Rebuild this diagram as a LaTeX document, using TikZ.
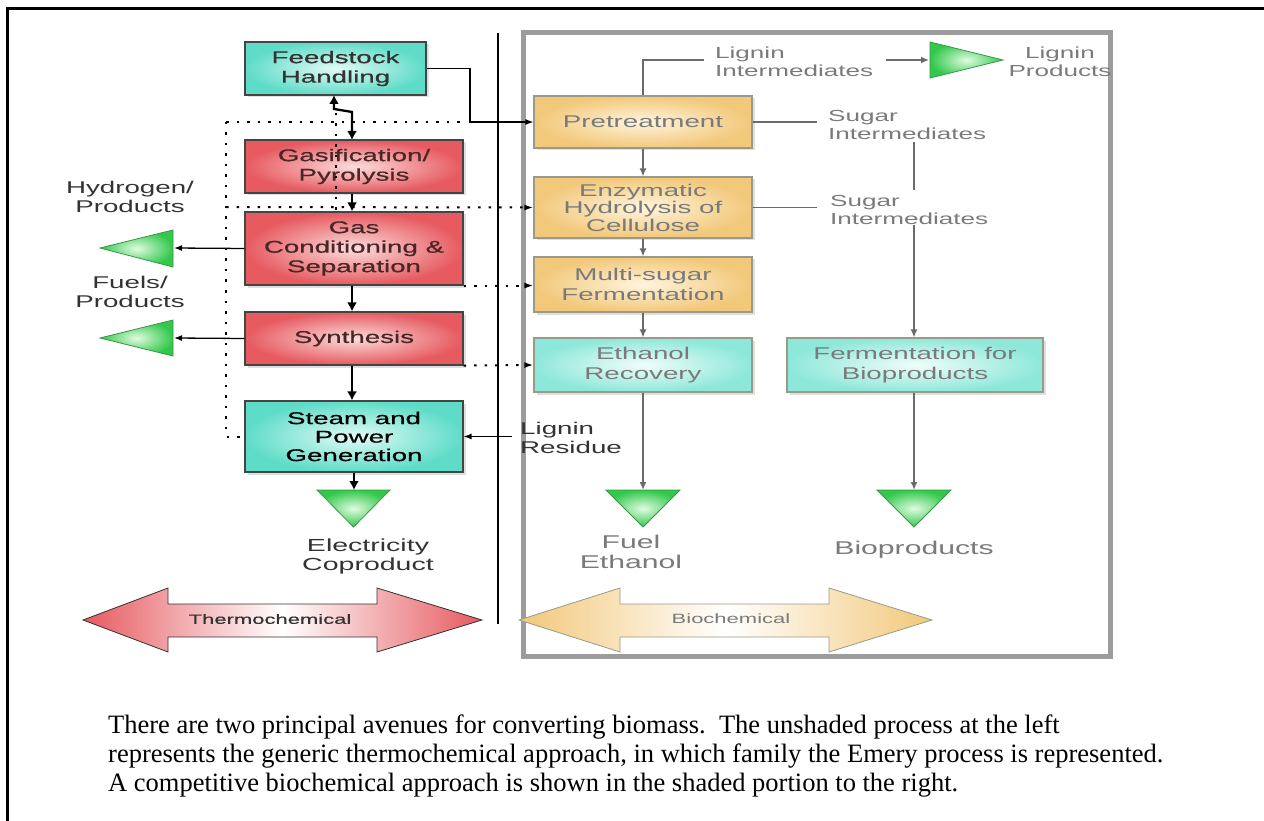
\documentclass[tikz,border=0pt]{standalone}
\usepackage{fontspec}
\setmainfont{Liberation Serif}
\newfontfamily\dg[FakeStretch=1.63]{Liberation Sans}
\newfontfamily\dgb[FakeStretch=1.63,FakeBold=0.6]{Liberation Sans}
\newfontfamily\capfont{Liberation Serif}
\usetikzlibrary{arrows.meta,shadows,calc}
\definecolor{redout}{HTML}{E65A60}
\definecolor{redin}{HTML}{FCDCDC}
\definecolor{cyout}{HTML}{5FDCC8}
\definecolor{cyin}{HTML}{E2FBF6}
\definecolor{cy2out}{HTML}{8EE8DA}
\definecolor{cy2in}{HTML}{F0FDFA}
\definecolor{yelout}{HTML}{F2C87A}
\definecolor{yelin}{HTML}{FFF5DE}
\definecolor{trout}{HTML}{33C84C}
\definecolor{trin}{HTML}{E0FBE0}
\definecolor{trline}{HTML}{3A9548}
\definecolor{boxline}{HTML}{444444}
\definecolor{boxline2}{HTML}{9A9A8A}
\definecolor{arrgray}{HTML}{6A6A6A}
\definecolor{framegray}{HTML}{9C9C9C}
\definecolor{lbl}{HTML}{333333}
\definecolor{lbl2}{HTML}{7A7A7A}
\definecolor{redtext}{HTML}{4A2626}
\tikzset{
  box/.style={draw=boxline, line width=1.1pt, align=center, inner sep=0pt,
    drop shadow={shadow xshift=2.5pt, shadow yshift=-2.5pt, opacity=0.25},
    font=\dgb\fontsize{17}{19.5}\selectfont},
  redbox/.style={box, inner color=redin, outer color=redout, text=redtext},
  cybox/.style={box, inner color=cyin, outer color=cyout, text=lbl},
  yelbox/.style={box, draw=boxline2, inner color=yelin, outer color=yelout, text=lbl2,
    font=\dg\fontsize{17}{19.5}\selectfont},
  cy2box/.style={box, draw=boxline2, inner color=cy2in, outer color=cy2out, text=lbl2,
    font=\dg\fontsize{17}{19.5}\selectfont},
  tri/.style={draw=trline, line width=0.8pt, inner color=trin, outer color=trout},
  thk/.style={line width=2.3pt, -{Latex[length=9pt,width=10pt]}},
  thn/.style={line width=1.3pt, -{Latex[length=8pt,width=6pt]}},
  gry/.style={draw=arrgray, line width=1.7pt, -{Latex[length=8pt,width=7pt]}},
  gryline/.style={draw=arrgray, line width=1.7pt},
  dotline/.style={line width=2pt, dash pattern=on 2.5pt off 8pt},
  lab/.style={align=center, inner sep=0pt, text=lbl, font=\dg\fontsize{17}{19}\selectfont},
  rlab/.style={align=left, inner sep=0pt, text=lbl2, font=\dg\fontsize{16}{17.5}\selectfont},
  caption/.style={anchor=base west, inner sep=0pt, font=\capfont\fontsize{26.5}{29}\selectfont}
}
\begin{document}
\begin{tikzpicture}[x=1pt,y=-1pt]
\useasboundingbox (0,0) rectangle (1264,821);
% outer frame
\draw[line width=3pt] (7,821) -- (7,8.5) -- (1264,8.5);
% biochemical frame
\draw[line width=5pt, draw=framegray] (523,33) rectangle (1110,656);
% separator
\draw[line width=1.5pt] (498,33) -- (498,624);

% big arrows
\path[draw=lbl, line width=0.8pt, left color=redout, right color=redout, middle color=white]
  (83,620) -- (168,588) -- (168,604) -- (377,604) -- (377,588) -- (482,620)
  -- (377,652) -- (377,637) -- (168,637) -- (168,652) -- cycle;
\node[inner sep=0pt, text=lbl, font=\dgb\fontsize{13.5}{15}\selectfont] (thermo) at (270,619) {Thermochemical};
\path[draw=boxline2, line width=0.8pt, left color=yelout, right color=yelout, middle color=white]
  (519,620) -- (620,588) -- (620,604) -- (829,604) -- (829,588) -- (932,620)
  -- (829,652) -- (829,637) -- (620,637) -- (620,652) -- cycle;
\node[inner sep=0pt, text=lbl2, font=\dg\fontsize{13.5}{15}\selectfont] (bio) at (731,619) {Biochemical};

% left boxes
\node[cybox, minimum width=181pt, minimum height=53pt] (feed) at (335.5,68.5) {Feedstock\\Handling};
\node[redbox, minimum width=218pt, minimum height=53pt] (gas) at (354,166.5) {Gasification/\\Pyrolysis};
\node[redbox, minimum width=218pt, minimum height=73pt] (cond) at (354,248.5) {Gas\\Conditioning \&\\Separation};
\node[redbox, minimum width=218pt, minimum height=53pt] (syn) at (354,338.5) {Synthesis};
\node[cybox, minimum width=218pt, minimum height=71pt, text=black, font=\dgb\fontsize{17}{18.5}\selectfont] (steam) at (354,436.5) {Steam and\\Power\\Generation};

% right boxes
\node[yelbox, minimum width=218pt, minimum height=52pt] (pre) at (643,122) {Pretreatment};
\node[yelbox, minimum width=218pt, minimum height=61pt, font=\dg\fontsize{17}{17.5}\selectfont] (enz) at (643,207.5) {Enzymatic\\Hydrolysis of\\Cellulose};
\node[yelbox, minimum width=218pt, minimum height=55pt] (multi) at (643,284.5) {Multi-sugar\\Fermentation};
\node[cy2box, minimum width=218pt, minimum height=54pt] (ethrec) at (643,365) {Ethanol\\Recovery};
\node[cy2box, minimum width=256pt, minimum height=54pt] (fermbio) at (915,365) {Fermentation for\\Bioproducts};

% green triangles
\path[tri] (100,248) -- (173,230) -- (173,267) -- cycle;
\coordinate (hyd) at (174,248);
\path[tri] (100,338) -- (173,320) -- (173,356) -- cycle;
\coordinate (fuel) at (174,338);
\path[tri] (317,490) -- (390,490) -- (353.5,527) -- cycle;
\coordinate (elec) at (354,490);
\path[tri] (606,490) -- (680,490) -- (643,527) -- cycle;
\coordinate (feth) at (643,490);
\path[tri] (877,490) -- (951,490) -- (914,527) -- cycle;
\coordinate (biop) at (914,490);
\path[tri] (1003,60) -- (930,42) -- (930,78) -- cycle;
\coordinate (lprod) at (929,60);

% labels
\node[lab] (hydlab) at (130,197) {Hydrogen/\\Products};
\node[lab] (fuellab) at (130,292) {Fuels/\\Products};
\node[lab, font=\dg\fontsize{17.5}{19}\selectfont] (eleclab) at (368,556) {Electricity\\Coproduct};
\node[lab, text=lbl2, font=\dg\fontsize{18.5}{20}\selectfont] (fethlab) at (631,552) {Fuel\\Ethanol};
\node[lab, text=lbl2, font=\dg\fontsize{18.5}{20}\selectfont] (bioplab) at (914,550) {Bioproducts};
\node[rlab, anchor=west] (liglab) at (715,62) {Lignin\\Intermediates};
\node[lab, text=lbl2, font=\dg\fontsize{16}{17.5}\selectfont] (lprodlab) at (1060,62) {Lignin\\Products};
\node[rlab, anchor=west] (sug1) at (828,125) {Sugar\\Intermediates};
\node[rlab, anchor=west] (sug2) at (830,210) {Sugar\\Intermediates};
\node[rlab, anchor=west, text=lbl, font=\dg\fontsize{17}{19}\selectfont] (ligres) at (520,438) {Lignin\\Residue};

% dotted thermochemical links
\draw[dotline] (226,122) -- (466,122);
\draw[dotline] (226,122) -- (226,436.5) -- (steam.west);
\draw[dotline] (336,113) -- (336,212);
\draw[dotline, -{Latex[length=9pt,width=6pt]}] (226,207) -- (enz.west);
\draw[dotline, -{Latex[length=9pt,width=6pt]}] (cond.south east) -- (multi.west |- cond.south east);
\draw[dotline, -{Latex[length=9pt,width=6pt]}] (syn.south east) -- (ethrec.west);

% black connectors
\draw[thn] (feed.east) -- (470,68.5) -- (470,122) -- (pre.west);
\draw[line width=2.3pt, {Latex[length=9pt,width=10pt]}-{Latex[length=9pt,width=10pt]}]
  (334,95) -- (334,109) -- (352,112) -- (352,140);
\draw[thk] (gas.south -| 352,0) -- (cond.north -| 352,0);
\draw[thk] (cond.south -| 352,0) -- (syn.north -| 352,0);
\draw[thk] (syn.south -| 352,0) -- (steam.north -| 352,0);
\draw[thk] (steam.south -| 354,0) -- (elec);
\draw[thn] (cond.west) -- (hyd);
\draw[thn] (syn.west) -- (fuel);
\coordinate (lr) at (512,436.5);
\draw[thn] (lr) -- (steam.east);

% gray biochemical connectors
\draw[gry] (pre.south) -- (enz.north);
\draw[gry] (enz.south) -- (multi.north);
\draw[gry] (multi.south) -- (ethrec.north);
\draw[gry] (ethrec.south) -- (feth);
\draw[gry] (fermbio.south -| biop) -- (biop);
\draw[gryline] (pre.north) -- (643,60) -- (704,60);
\coordinate (lpa) at (886,60);
\draw[gry] (lpa) -- (lprod);
\draw[gryline] (pre.east) -- (817,122);
\draw[gryline] (enz.east) -- (817,207.5);
\draw[gryline] (914,142) -- (914,190);
\draw[gry] (914,225) -- (fermbio.north -| biop);

% caption
\node[caption] (cap1) at (108,733) {There are two principal avenues for converting biomass.\ \ The unshaded process at the left};
\node[caption] (cap2) at (108,762) {represents the generic thermochemical approach, in which family the Emery process is represented.};
\node[caption] (cap3) at (108,791) {A competitive biochemical approach is shown in the shaded portion to the right.};
\end{tikzpicture}
\end{document}
